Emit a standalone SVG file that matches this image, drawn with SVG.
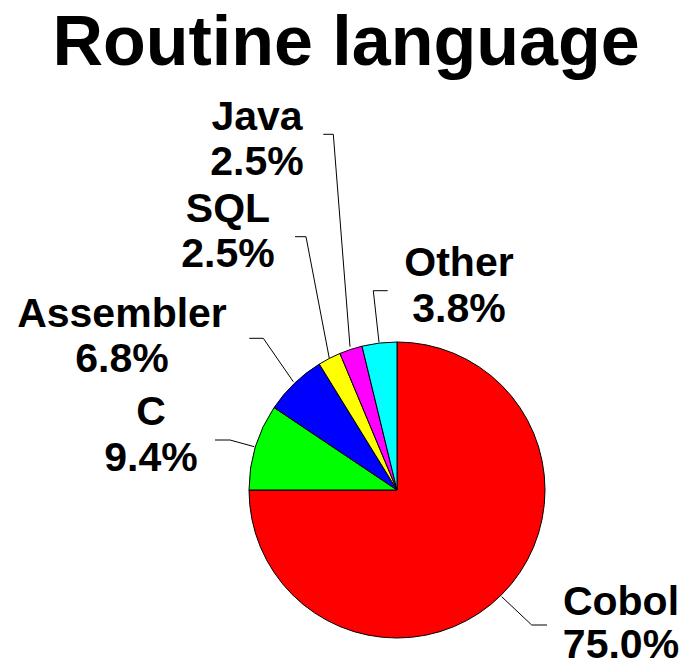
<svg xmlns="http://www.w3.org/2000/svg" width="686" height="667" viewBox="0 0 686 667">
<style>
.t{font-family:"Liberation Sans",Arial,sans-serif;font-weight:bold;fill:#000;text-anchor:middle}
.lbl{font-size:41px}
.sl{stroke:#000;stroke-width:1;stroke-linejoin:round}
.ld{fill:none;stroke:#000;stroke-width:1}
</style>
<rect width="686" height="667" fill="#fff"/>
<text class="t" x="346" y="65" font-size="70">Routine language</text>
<g id="slices">
<g id="cobol"><path class="sl" fill="#FF0000" d="M397,490 L397,342 A148,148 0 1 1 249,490 Z"/></g>
<g id="c"><path class="sl" fill="#00FF00" d="M397,490 L249,490 A148,148 0 0 1 274.1,407.55 Z"/></g>
<g id="assembler"><path class="sl" fill="#0000FF" d="M397,490 L274.1,407.55 A148,148 0 0 1 319.3,364.1 Z"/></g>
<g id="sql"><path class="sl" fill="#FFFF00" d="M397,490 L319.3,364.1 A148,148 0 0 1 339.93,353.44 Z"/></g>
<g id="java"><path class="sl" fill="#FF00FF" d="M397,490 L339.93,353.44 A148,148 0 0 1 362,346.2 Z"/></g>
<g id="other"><path class="sl" fill="#00FFFF" d="M397,490 L362,346.2 A148,148 0 0 1 397,342 Z"/></g>
</g>
<g id="connectors">
<polyline class="ld" points="501.7,596.7 531.7,625 547,625"/>
<polyline class="ld" points="254.3,446.7 230,440 215,440"/>
<polyline class="ld" points="293.3,381.7 263.3,338.3 249.3,338.3"/>
<polyline class="ld" points="329.3,358.3 306,236.7 295,236.7"/>
<polyline class="ld" points="350,346.7 333.3,134.3 323.3,134.3"/>
<polyline class="ld" points="379,342.3 373.3,290.7 387.7,290.7"/>
</g>
<g id="label-cobol"><text class="t lbl" x="621" y="615">Cobol</text><text class="t lbl" x="621" y="658">75.0%</text></g>
<g id="label-c"><text class="t lbl" x="151" y="425">C</text><text class="t lbl" x="151" y="471">9.4%</text></g>
<g id="label-assembler"><text class="t lbl" x="122" y="327">Assembler</text><text class="t lbl" x="122" y="372">6.8%</text></g>
<g id="label-sql"><text class="t lbl" x="228" y="222">SQL</text><text class="t lbl" x="228" y="267">2.5%</text></g>
<g id="label-java"><text class="t lbl" x="257" y="130">Java</text><text class="t lbl" x="257" y="175">2.5%</text></g>
<g id="label-other"><text class="t lbl" x="459" y="276">Other</text><text class="t lbl" x="459" y="322">3.8%</text></g>
</svg>
